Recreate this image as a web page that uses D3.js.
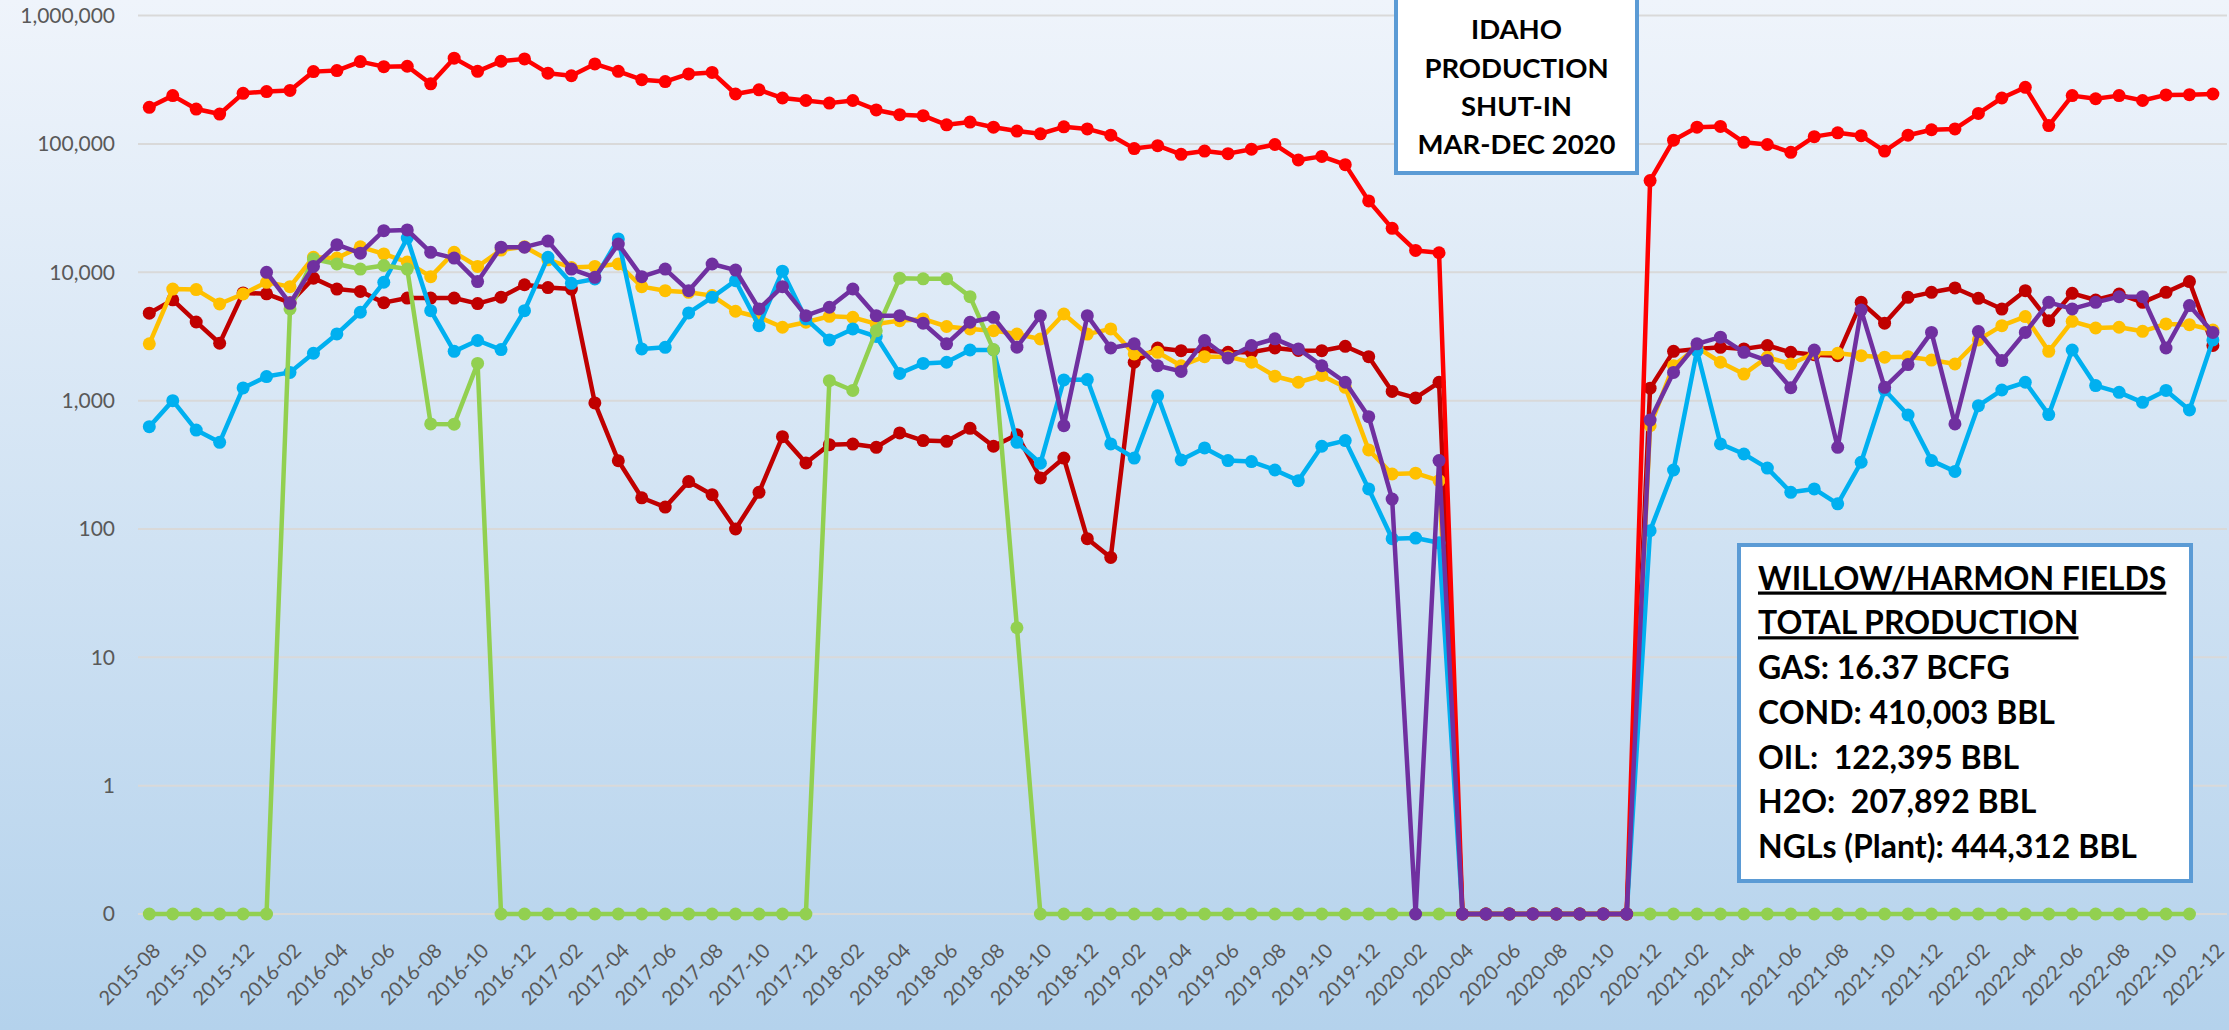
<!DOCTYPE html>
<html>
<head>
<meta charset="utf-8">
<script src="https://cdn.jsdelivr.net/npm/d3@7"></script>
<style>
  body { margin: 0; background: #fff; }
  svg { display: block; font-family: Lato, "Open Sans", sans-serif; }
</style>
</head>
<body>
<div id="my_dataviz"></div>
<script>
// months 2015-08 .. 2022-12
var months = d3.utcMonth.range(new Date(Date.UTC(2015, 7, 1)), new Date(Date.UTC(2023, 0, 1)))
  .map(d3.utcFormat("%Y-%m"));
var xTickLabels = months.filter(function (m, i) { return i % 2 === 0; });
var yTicks = [0.1, 1, 10, 100, 1000, 10000, 100000, 1000000];

// monthly volumes (0 = shut-in / no production)
var gas = [193000,238000,187000,171000,248000,256000,261000,366000,373000,438000,400000,403000,294000,466000,368000,441000,460000,356000,
  340000,420000,368000,317000,306000,351000,361000,245000,264000,228000,218000,208000,218000,184000,169000,166000,141000,148000,135000,126000,120000,136000,131000,
  117000,92000,97000,83000,88000,84000,91000,99000,75000,80000,69000,36000,22000,14800,14200,
  0,0,0,0,0,0,0,0,
  51800,107000,135000,137000,103000,99000,86000,114000,122000,116000,88000,117000,129000,131000,173000,228000,276000,139000,238000,225000,238000,218000,241000,242000,245000];

var oil = [4800,6100,4100,2800,6900,6800,5800,9000,7400,7100,5800,6300,6300,6300,5700,6400,8000,7600,
  7400,960,340,175,148,234,185,100,193,524,327,454,459,433,560,488,482,608,441,543,250,357,84,
  60,1990,2570,2450,2460,2380,2380,2570,2460,2450,2650,2200,1180,1050,1390,
  0,0,0,0,0,0,0,0,
  1250,2420,2530,2600,2530,2690,2380,2280,2240,5830,4010,6380,6980,7550,6270,5170,7190,4200,6860,6080,6770,5830,6980,8460,2690];

var condensate = [2770,7400,7330,5670,6770,8350,7730,13100,12900,15800,13900,12000,9250,14300,11100,14900,15800,12500,
  10900,11100,11600,7730,7190,6980,6580,4970,4460,3730,4080,4540,4460,3960,4200,4330,3780,3620,3510,3300,3020,4730,3300,
  3620,2310,2380,1870,2200,2200,1990,1550,1390,1570,1270,413,268,272,238,
  0,0,0,0,0,0,0,0,
  638,1870,2600,1990,1610,2180,1930,2340,2340,2240,2180,2200,2070,1930,2970,3840,4520,2420,4150,3680,3730,3470,3960,3910,3550];

var water = [627,1000,590,473,1255,1540,1660,2340,3310,4880,8360,18500,5020,2420,2940,2500,5020,13100,
  8200,8870,18200,2530,2600,4820,6380,8600,3840,10200,4330,2970,3620,3160,1630,1950,1990,2480,2480,473,325,1450,1460,
  460,357,1090,345,428,341,335,288,238,441,488,205,84,85,78,
  0,0,0,0,0,0,0,0,
  97,288,2450,460,384,298,193,205,157,331,1210,773,341,281,914,1210,1390,778,2480,1310,1160,970,1200,845,2970];

var ngl = [null,null,null,null,null,10000,5730,11100,16400,14100,21100,21400,14300,12900,8460,15700,15700,17500,
  10600,9140,16600,9250,10600,7190,11600,10400,5180,7730,4590,5340,7410,4590,4590,4010,2770,4080,4460,2610,4590,638,4590,
  2570,2770,1870,1690,2940,2150,2690,3030,2530,1870,1390,750,171,0,341,
  0,0,0,0,0,0,0,0,
  706,1660,2770,3120,2380,2050,1260,2480,433,5080,1270,1910,3400,658,3450,2050,3400,5830,5180,5830,6460,6460,2570,5500,3400];

var oilOther = [0,0,0,0,0,0,5180,12700,11600,10600,11300,10600,658,655,1950,0,0,
  0,0,0,0,0,0,0,0,0,0,0,0,1430,1200,3500,9000,8900,8900,6460,2500,17,0,0,
  0,0,0,0,0,0,0,0,0,0,0,0,0,0,0,
  0,0,0,0,0,0,0,0,
  0,0,0,0,0,0,0,0,0,0,0,0,0,0,0,0,0,0,0,0,0,0,0,0,0];

var idahoLines = ["IDAHO", "PRODUCTION", "SHUT-IN", "MAR-DEC 2020"];
var totalLines = ["WILLOW/HARMON FIELDS", "TOTAL PRODUCTION", "GAS: 16.37 BCFG", "COND: 410,003 BBL",
  "OIL:  122,395 BBL", "H2O:  207,892 BBL", "NGLs (Plant): 444,312 BBL"];

// draw order matters: purple ends up on top
var series = [
  {name: "oil", values: oil, color: "#C00000"},
  {name: "condensate", values: condensate, color: "#FFC000"},
  {name: "water", values: water, color: "#00B0F0"},
  {name: "oilOther", values: oilOther, color: "#92D050"},
  {name: "gas", values: gas, color: "#FF0000"},
  {name: "ngl", values: ngl, color: "#7030A0"}
];

var W = 2229, H = 1030;

var svg = d3.select("#my_dataviz")
  .append("svg")
    .attr("width", W)
    .attr("height", H);

// background gradient
var grad = svg.append("defs").append("linearGradient")
    .attr("id", "bg").attr("x1", 0).attr("y1", 0).attr("x2", 0).attr("y2", 1);
grad.append("stop").attr("offset", "0%").attr("stop-color", "#EFF4FB");
grad.append("stop").attr("offset", "100%").attr("stop-color", "#B4D2EC");
svg.append("rect").attr("width", W).attr("height", H).attr("fill", "url(#bg)");

var x = d3.scalePoint()
  .domain(months)
  .range([149.3, 2212.9]);

var y = d3.scaleLog()
  .domain([0.1, 1000000])
  .range([914, 15.6]);

// zero can't sit on a log axis, so it goes on the bottom ("0") line
var yv = function (v) { return y(Math.max(v, 0.1)); };

// gridlines
svg.append("g")
  .selectAll("line")
  .data(yTicks)
  .enter()
  .append("line")
    .attr("x1", 138).attr("x2", 2227)
    .attr("y1", function (d) { return y(d); })
    .attr("y2", function (d) { return y(d); })
    .attr("stroke", "#D9D9D9")
    .attr("stroke-width", 2);

// Y axis
var yAxis = svg.append("g")
  .attr("transform", "translate(138,0)")
  .call(d3.axisLeft(y).tickValues(yTicks).tickFormat(d3.format(",.0f")).tickSize(0).tickPadding(23));
yAxis.select(".domain").remove();
yAxis.selectAll("text")
  .attr("font-family", "Lato, sans-serif")
  .attr("font-size", 21)
  .attr("fill", "#595959");

// X axis
var xAxis = svg.append("g")
  .attr("transform", "translate(0,914)")
  .call(d3.axisBottom(x).tickValues(xTickLabels).tickSize(0));
xAxis.select(".domain").remove();
xAxis.selectAll("text")
  .attr("font-family", "Lato, sans-serif")
  .attr("font-size", 20)
  .attr("fill", "#595959")
  .attr("text-anchor", "end")
  .attr("x", 0).attr("y", 0).attr("dy", "0.35em")
  .attr("transform", "translate(7,33) rotate(-45)");

// lines + dots
var line = d3.line()
  .defined(function (d) { return d != null; })
  .x(function (d, i) { return x(months[i]); })
  .y(function (d) { return yv(d); });

series.forEach(function (s) {
  var g = svg.append("g").attr("class", "series-" + s.name);
  g.append("path")
    .datum(s.values)
    .attr("fill", "none")
    .attr("stroke", s.color)
    .attr("stroke-width", 4.5)
    .attr("stroke-linejoin", "round")
    .attr("d", line);
  g.selectAll("circle")
    .data(s.values.map(function (v, i) { return {v: v, m: months[i]}; })
      .filter(function (d) { return d.v != null; }))
    .enter()
    .append("circle")
      .attr("cx", function (d) { return x(d.m); })
      .attr("cy", function (d) { return yv(d.v); })
      .attr("r", 6.5)
      .style("fill", s.color);
});

// shut-in note
svg.append("rect")
  .attr("x", 1396).attr("y", -4).attr("width", 241).attr("height", 177)
  .attr("fill", "#fff").attr("stroke", "#5B9BD5").attr("stroke-width", 4);
svg.append("g")
  .selectAll("text")
  .data(idahoLines)
  .enter()
  .append("text")
    .attr("x", 1516.5)
    .attr("y", function (d, i) { return 39.3 + i * 38.3; })
    .attr("text-anchor", "middle")
    .attr("font-weight", "bold")
    .attr("font-size", 27.5)
    .attr("fill", "#000")
    .text(function (d) { return d; });

// totals box
svg.append("rect")
  .attr("x", 1739).attr("y", 545).attr("width", 452).attr("height", 336)
  .attr("fill", "#fff").attr("stroke", "#5B9BD5").attr("stroke-width", 4);
svg.append("g")
  .selectAll("text")
  .data(totalLines)
  .enter()
  .append("text")
    .attr("x", 1758)
    .attr("y", function (d, i) { return 589.5 + i * 44.75; })
    .attr("font-weight", "bold")
    .attr("font-size", 32)
    .attr("fill", "#000")
    .style("white-space", "pre")
    .style("text-decoration", function (d, i) { return i < 2 ? "underline" : null; })
    .text(function (d) { return d; });
</script>
</body>
</html>
